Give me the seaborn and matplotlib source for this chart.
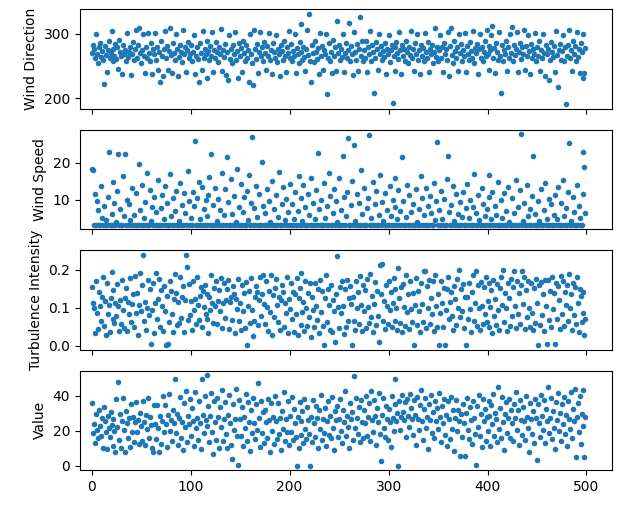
import numpy as np
import matplotlib
matplotlib.use("Agg")
import matplotlib.pyplot as plt
import seaborn as sns

# Values, index 0..499
wind_direction = [
    270, 282, 276, 262, 299, 268, 255, 279, 286, 264, 273, 259, 222, 281, 267, 240, 274, 288, 262, 270, 304, 258, 277, 265, 284,
    261, 279, 245, 290, 272, 266, 238, 283, 269, 275, 257, 301, 264, 271, 280, 236, 268, 287, 259, 276, 306, 263, 282, 309, 270,
    255, 274, 299, 266, 239, 280, 262, 301, 270, 258, 285, 237, 276, 268, 301, 260, 279, 244, 271, 225, 288, 265, 234, 277, 304,
    262, 281, 244, 273, 309, 267, 239, 286, 270, 259, 300, 276, 235, 264, 283, 271, 256, 306, 268, 279, 241, 274, 287, 262, 269,
    283, 257, 272, 298, 238, 266, 279, 261, 225, 285, 270, 244, 304, 263, 277, 268, 232, 289, 273, 259, 281, 266, 302, 240, 275,
    263, 287, 271, 256, 280, 268, 307, 242, 275, 264, 284, 236, 272, 229, 298, 261, 277, 255, 283, 268, 302, 259, 273, 231, 286,
    265, 278, 241, 289, 270, 258, 282, 263, 274, 225, 300, 268, 255, 220, 306, 276, 261, 284, 239, 272, 303, 266, 279, 257, 287,
    270, 244, 281, 266, 301, 260, 275, 238, 285, 271, 262, 298, 256, 277, 268, 235, 283, 273, 259, 288, 265, 241, 279, 270, 304,
    262, 284, 257, 273, 266, 299, 239, 278, 268, 255, 287, 271, 315, 260, 280, 264, 242, 276, 306, 267, 331, 258, 226, 283, 270,
    256, 289, 272, 261, 278, 237, 301, 266, 281, 244, 275, 268, 300, 206, 263, 285, 258, 272, 239, 290, 266, 279, 243, 320, 270,
    283, 259, 276, 264, 300, 241, 270, 286, 262, 275, 317, 257, 281, 268, 236, 302, 272, 260, 284, 243, 277, 325, 266, 288, 258,
    274, 263, 289, 240, 279, 268, 304, 257, 283, 271, 209, 262, 287, 276, 244, 300, 268, 281, 259, 273, 264, 286, 238, 277, 269,
    298, 256, 275, 283, 192, 266, 279, 242, 287, 270, 261, 302, 274, 238, 282, 265, 277, 258, 289, 271, 255, 280, 267, 304, 262,
    276, 243, 285, 269, 299, 260, 274, 237, 282, 266, 278, 257, 301, 271, 262, 287, 240, 276, 268, 283, 255, 272, 309, 264, 280,
    258, 274, 298, 263, 279, 241, 286, 269, 276, 260, 302, 235, 281, 309, 267, 255, 288, 273, 262, 279, 242, 299, 270, 284, 257,
    275, 266, 301, 240, 281, 268, 259, 287, 273, 262, 304, 255, 278, 270, 284, 238, 276, 299, 263, 280, 257, 272, 289, 265, 306,
    268, 281, 244, 275, 298, 312, 262, 278, 239, 286, 271, 260, 303, 266, 209, 283, 257, 274, 269, 288, 242, 279, 263, 300, 270,
    311, 258, 283, 267, 276, 303, 240, 272, 286, 261, 279, 268, 305, 244, 281, 265, 298, 273, 237, 284, 262, 276, 269, 301, 257,
    280, 266, 288, 243, 274, 262, 299, 270, 235, 283, 268, 276, 229, 259, 287, 272, 264, 281, 240, 304, 267, 218, 275, 284, 260,
    273, 298, 257, 279, 191, 266, 283, 305, 262, 275, 242, 288, 269, 281, 258, 302, 264, 277, 239, 286, 271, 231, 300, 239, 278,
]

wind_speed = [
    18.2, 17.9, 3.4, 11.5, 3.4, 9.8, 7.2, 3.4, 3.4, 13.6, 5.1, 3.4, 8.4, 3.4, 4.6, 3.4, 10.7, 22.9, 3.4, 3.4, 6.3, 3.4, 14.8, 9.2, 3.4,
    4.2, 12.3, 22.4, 3.4, 7.7, 3.4, 3.4, 16.5, 5.8, 22.4, 3.4, 10.1, 3.4, 8.9, 4.7, 3.4, 13.2, 3.4, 6.1, 3.4, 11.8, 3.4, 3.4, 19.6, 7.4,
    3.4, 14.1, 3.4, 5.3, 9.5, 3.4, 17.2, 3.4, 3.4, 12.7, 4.4, 8.1, 3.4, 10.9, 3.4, 6.8, 3.4, 15.4, 3.4, 3.4, 7.9, 11.2, 3.4, 4.9, 13.8,
    3.4, 9.1, 3.4, 3.4, 16.9, 5.6, 3.4, 10.4, 3.4, 7.1, 12.5, 3.4, 3.4, 4.3, 14.6, 3.4, 8.6, 3.4, 11.9, 6.5, 3.4, 3.4, 17.8, 9.7, 3.4,
    5.2, 3.4, 12.1, 8.3, 25.8, 3.4, 10.6, 3.4, 14.9, 4.8, 3.4, 13.4, 3.4, 7.5, 3.4, 9.9, 5.7, 3.4, 11.4, 16.2, 3.4, 22.4, 3.4, 8.7, 3.4,
    13.1, 3.4, 4.5, 10.2, 3.4, 7.3, 3.4, 17.1, 3.4, 5.9, 12.8, 3.4, 21.6, 9.4, 3.4, 3.4, 15.7, 6.2, 3.4, 11.1, 3.4, 4.1, 18.4, 3.4, 8.2,
    3.4, 14.3, 3.4, 6.7, 10.8, 3.4, 3.4, 12.4, 4.6, 16.8, 3.4, 9.3, 26.8, 3.4, 7.8, 3.4, 13.7, 5.4, 3.4, 11.6, 3.4, 3.4, 20.1, 8.5, 3.4,
    6.4, 3.4, 12.9, 3.4, 9.6, 4.2, 3.4, 15.1, 3.4, 7.6, 3.4, 11.3, 3.4, 5.5, 17.5, 3.4, 3.4, 8.8, 13.5, 3.4, 4.7, 10.3, 3.4, 6.9, 3.4,
    14.2, 3.4, 9.0, 3.4, 5.0, 12.2, 3.4, 3.4, 7.0, 16.4, 3.4, 10.5, 3.4, 4.4, 13.9, 3.4, 8.0, 3.4, 3.4, 11.7, 6.0, 3.4, 15.8, 3.4, 9.2,
    3.4, 4.9, 12.6, 3.4, 22.6, 7.5, 3.4, 10.0, 3.4, 3.4, 14.4, 5.3, 3.4, 8.3, 3.4, 17.3, 11.0, 3.4, 3.4, 6.6, 13.0, 3.4, 9.8, 4.0, 3.4,
    16.0, 3.4, 7.2, 3.4, 21.8, 10.7, 3.4, 5.6, 12.0, 26.6, 3.4, 3.4, 8.6, 15.0, 3.4, 24.7, 4.5, 3.4, 11.5, 3.4, 9.1, 3.4, 18.0, 6.3, 3.4,
    13.3, 3.4, 3.4, 7.9, 10.4, 27.4, 3.4, 5.1, 3.4, 14.7, 3.4, 8.9, 12.3, 3.4, 3.4, 6.0, 16.6, 3.4, 9.5, 4.4, 3.4, 11.9, 3.4, 7.3, 3.4,
    3.4, 13.6, 5.8, 3.4, 10.1, 3.4, 8.2, 15.9, 3.4, 4.8, 12.7, 3.4, 7.0, 3.4, 21.6, 9.6, 3.4, 3.4, 5.4, 14.0, 3.4, 11.2, 3.4, 6.7, 3.4,
    9.0, 3.4, 3.4, 12.9, 4.2, 3.4, 7.7, 3.4, 16.3, 10.6, 3.4, 5.9, 3.4, 13.2, 3.4, 8.4, 3.4, 11.0, 6.5, 3.4, 3.4, 14.5, 4.6, 9.7, 25.5,
    3.4, 7.4, 3.4, 12.4, 5.0, 3.4, 10.3, 3.4, 3.4, 15.6, 21.8, 6.9, 3.4, 8.7, 3.4, 13.8, 4.3, 3.4, 11.6, 3.4, 6.2, 3.4, 9.4, 3.4, 5.5,
    12.0, 3.4, 3.4, 7.8, 14.3, 3.4, 5.2, 10.0, 3.4, 3.4, 8.1, 17.0, 3.4, 6.4, 3.4, 11.4, 4.7, 3.4, 3.4, 13.1, 9.0, 3.4, 5.7, 3.4, 7.5,
    3.4, 16.7, 10.9, 3.4, 4.9, 12.2, 3.4, 3.4, 8.5, 6.1, 3.4, 14.9, 3.4, 3.4, 9.9, 5.3, 3.4, 11.8, 3.4, 7.1, 3.4, 13.4, 4.2, 3.4, 3.4,
    10.5, 3.4, 6.6, 3.4, 15.2, 3.4, 8.0, 3.4, 12.6, 27.6, 3.4, 4.5, 9.3, 3.4, 3.4, 13.9, 5.8, 3.4, 7.6, 3.4, 11.1, 21.8, 3.4, 6.3, 3.4,
    3.4, 9.7, 4.4, 3.4, 12.8, 3.4, 3.4, 7.2, 14.6, 3.4, 5.0, 3.4, 10.2, 3.4, 8.8, 3.4, 3.4, 6.0, 11.3, 3.4, 4.8, 13.5, 3.4, 3.4, 9.1,
    3.4, 15.3, 5.6, 3.4, 7.9, 3.4, 12.1, 25.2, 3.4, 4.3, 3.4, 10.8, 6.8, 3.4, 3.4, 14.1, 3.4, 8.4, 5.2, 3.4, 3.4, 11.6, 22.9, 18.9, 6.5,
]

turbulence = [
    .155, .112, .098, .034, .171, .087, .043, .140, .105, .064, .128, .181, .052, .117, .029, .164, .083, .108, .036, .125, .195, .071, .146, .060, .113,
    .078, .162, .104, .037, .119, .058, .172, .093, .046, .126, .151, .039, .115, .082, .177, .063, .110, .136, .048, .183, .085, .139, .028, .107, .192,
    .090, .159, .240, .065, .116, .042, .100, .173, .081, .150, .004, .094, .165, .034, .111, .192, .069, .124, .176, .050, .147, .103, .037, .158, .092,
    .002, .131, .003, .061, .169, .145, .084, .036, .122, .189, .138, .054, .114, .059, .180, .073, .127, .156, .035, .119, .240, .208, .067, .163, .080,
    .117, .041, .171, .093, .124, .056, .182, .108, .067, .130, .155, .048, .144, .101, .161, .083, .136, .070, .032, .128, .095, .187, .113, .059, .152,
    .104, .170, .058, .118, .146, .091, .178, .045, .112, .165, .072, .120, .149, .173, .044, .116, .129, .068, .157, .137, .033, .122, .096, .175, .064,
    .111, .040, .160, .092, .138, .047, .168, .001, .103, .144, .060, .179, .094, .025, .066, .127, .158, .142, .055, .121, .180, .078, .135, .185, .110,
    .056, .169, .102, .038, .145, .089, .187, .027, .133, .075, .152, .176, .106, .063, .128, .041, .119, .160, .141, .050, .113, .087, .181, .034, .122,
    .097, .164, .069, .140, .035, .136, .082, .178, .028, .125, .153, .054, .191, .088, .114, .039, .170, .099, .051, .138, .074, .166, .023, .127, .093,
    .048, .165, .105, .067, .150, .032, .172, .089, .143, .052, .001, .126, .185, .063, .148, .108, .042, .161, .036, .119, .090, .010, .137, .235, .101,
    .046, .154, .087, .171, .104, .031, .148, .050, .173, .066, .125, .157, .110, .001, .127, .065, .041, .169, .098, .141, .058, .184, .107, .038, .160,
    .091, .146, .047, .175, .102, .060, .189, .074, .132, .035, .109, .168, .054, .143, .077, .010, .213, .136, .215, .066, .118, .043, .161, .105, .056,
    .170, .093, .140, .048, .111, .177, .065, .150, .099, .040, .205, .126, .059, .154, .036, .162, .102, .052, .185, .088, .137, .044, .169, .096, .061,
    .138, .001, .107, .178, .055, .143, .090, .035, .164, .110, .063, .197, .197, .046, .158, .100, .172, .057, .125, .082, .171, .038, .186, .104, .050,
    .135, .001, .087, .169, .112, .048, .153, .002, .095, .150, .182, .069, .116, .141, .078, .040, .157, .124, .053, .176, .100, .200, .074, .148, .091,
    .163, .045, .129, .002, .128, .070, .164, .097, .036, .142, .187, .066, .113, .198, .051, .160, .099, .041, .168, .105, .058, .154, .082, .180, .063,
    .117, .049, .166, .101, .147, .032, .174, .079, .122, .055, .162, .094, .042, .151, .180, .107, .200, .062, .138, .098, .037, .165, .125, .052, .176,
    .078, .154, .197, .104, .046, .169, .083, .138, .057, .161, .197, .109, .180, .043, .146, .075, .171, .100, .050, .164, .086, .040, .151, .060, .175,
    .112, .002, .159, .054, .168, .081, .136, .039, .173, .103, .003, .172, .067, .145, .048, .181, .097, .139, .004, .166, .071, .157, .120, .044, .184,
    .084, .169, .052, .140, .106, .161, .065, .188, .099, .135, .042, .165, .081, .154, .057, .181, .113, .036, .148, .130, .063, .142, .085, .028, .069,
]

value = [
    36.2, 18.5, 24.1, 12.8, 29.4, 20.3, 15.6, 31.7, 22.9, 17.2, 27.5, 9.9, 33.8, 25.4, 19.1, 9.7, 28.6, 21.8, 16.4, 30.9, 23.5, 11.3, 26.7, 19.8, 7.6,
    38.1, 22.4, 48.0, 14.6, 29.9, 10.2, 25.8, 38.6, 20.7, 8.1, 31.4, 24.6, 15.9, 27.3, 10.5, 35.2, 19.1, 28.1, 13.8, 24.9, 36.6, 19.4, 26.2, 12.4, 30.3,
    22.7, 14.0, 37.4, 25.1, 11.7, 29.0, 20.9, 39.1, 16.1, 27.8, 23.2, 9.9, 7.6, 34.6, 24.0, 15.2, 34.7, 21.4, 7.6, 28.4, 12.3, 25.6, 40.2, 19.6, 35.1,
    23.8, 10.6, 28.9, 40.9, 20.1, 26.4, 14.4, 32.2, 24.4, 50.0, 18.6, 29.6, 11.9, 27.1, 39.5, 15.6, 25.3, 9.1, 35.9, 22.2, 42.6, 13.7, 28.3, 23.9, 38.4,
    17.3, 33.1, 25.9, 11.4, 42.1, 21.9, 27.6, 14.9, 37.4, 24.7, 9.6, 50.0, 29.2, 18.5, 39.8, 26.1, 52.0, 23.0, 34.3, 13.3, 28.7, 41.7, 19.3, 6.5, 36.9,
    25.0, 15.0, 38.9, 27.9, 10.4, 33.5, 22.0, 43.3, 14.1, 26.9, 36.4, 18.2, 10.1, 29.3, 40.4, 24.3, 12.1, 4.0, 35.6, 20.6, 27.0, 44.1, 16.8, 0.5, 37.6,
    26.5, 16.9, 33.8, 11.0, 28.0, 21.6, 41.1, 13.9, 36.7, 25.2, 8.6, 31.8, 18.6, 39.0, 24.2, 15.3, 35.2, 20.5, 47.6, 27.4, 10.8, 37.0, 19.0, 30.8, 13.0,
    32.0, 24.8, 16.0, 38.2, 26.0, 7.9, 35.8, 20.1, 28.2, 12.5, 40.1, 25.7, 15.1, 36.1, 18.0, 27.2, 9.1, 31.5, 21.3, 42.4, 14.3, 26.6, 19.5, 37.3, 11.6,
    28.5, 19.3, 39.3, 14.7, 32.4, 24.5, 16.5, 0.0, 27.7, 9.9, 36.5, 25.5, 17.4, 31.1, 12.9, 38.0, 21.1, 15.4, 33.7, 26.3, 18.2, 0.0, 28.0, 13.6, 37.9,
    24.6, 16.2, 34.5, 27.5, 10.3, 31.7, 20.8, 40.6, 14.5, 26.8, 18.7, 33.2, 11.5, 25.9, 37.2, 17.8, 28.3, 15.7, 39.6, 21.4, 8.7, 31.4, 26.0, 34.0, 16.7,
    27.0, 38.5, 20.0, 13.2, 32.0, 25.0, 42.9, 17.3, 28.6, 22.0, 10.0, 36.0, 26.5, 31.0, 15.0, 51.5, 21.7, 39.1, 27.3, 18.0, 33.5, 13.8, 37.5, 25.3, 16.0,
    31.9, 24.2, 40.0, 17.0, 27.9, 35.7, 14.0, 43.0, 26.3, 19.4, 37.7, 28.4, 12.0, 33.3, 25.1, 42.0, 18.3, 2.4, 28.9, 38.6, 21.6, 16.3, 34.4, 26.7, 14.8,
    32.8, 24.9, 10.6, 39.9, 27.6, 19.8, 35.3, 50.0, 25.7, 30.2, 0.0, 37.0, 20.7, 28.1, 40.8, 31.0, 26.4, 36.8, 16.6, 38.3, 28.6, 22.0, 41.2, 33.1, 26.9,
    17.5, 37.6, 29.0, 11.8, 39.4, 27.0, 20.2, 34.9, 43.7, 25.8, 14.7, 32.6, 38.8, 21.9, 28.2, 9.3, 35.4, 26.1, 40.3, 18.5, 30.6, 15.9, 37.1, 25.4, 32.9,
    20.9, 41.5, 27.8, 13.5, 34.3, 24.4, 38.1, 17.7, 28.8, 11.1, 36.9, 26.6, 15.5, 39.7, 21.0, 31.8, 8.4, 27.4, 37.8, 19.9, 32.1, 25.6, 5.3, 29.5, 16.4,
    35.2, 24.7, 5.3, 30.5, 39.0, 20.5, 15.2, 33.4, 26.2, 12.2, 37.4, 27.1, 18.1, 0.5, 34.0, 22.1, 40.5, 16.8, 29.7, 10.5, 38.0, 25.5, 32.6, 14.4, 27.7,
    20.0, 37.2, 28.3, 11.3, 34.8, 23.8, 41.0, 17.1, 30.3, 26.5, 13.4, 45.0, 21.2, 33.2, 15.6, 39.3, 25.2, 9.0, 29.9, 36.7, 18.6, 27.3, 38.5, 16.1, 32.0,
    24.5, 13.9, 35.5, 27.2, 42.3, 20.6, 31.7, 11.7, 37.9, 26.0, 17.4, 33.8, 25.6, 15.0, 39.8, 28.0, 21.5, 8.0, 36.0, 26.8, 18.4, 31.1, 13.1, 38.2, 27.5,
    3.0, 35.2, 24.3, 16.5, 40.7, 28.5, 20.3, 37.6, 12.8, 32.3, 25.9, 45.0, 18.6, 27.6, 38.9, 15.3, 31.4, 21.8, 9.7, 36.5, 26.3, 41.8, 19.7, 30.2, 14.2,
    35.6, 24.0, 39.5, 17.9, 29.0, 11.0, 37.3, 26.7, 20.8, 42.5, 15.8, 32.7, 25.4, 44.0, 4.7, 27.8, 36.1, 19.2, 40.2, 12.4, 29.6, 22.6, 43.7, 4.7, 28.1,
]

labels = ["Wind Direction", "Wind Speed", "Turbulence Intensity", "Value"]
series = [wind_direction, wind_speed, turbulence, value]
index = np.arange(len(value))

fig, axes = plt.subplots(4, 1, sharex=True, figsize=(6.19, 5.05), dpi=100)
fig.subplots_adjust(left=0.129, right=0.989, top=0.982, bottom=0.069, hspace=0.21)

for ax, label, vals in zip(axes, labels, series):
    sns.scatterplot(x=index, y=vals, ax=ax, s=16, linewidth=0, color="#1f77b4")
    ax.set_ylabel(label)
    ax.set_xlim(-12, 526)

plt.savefig("out.png", dpi=100)
